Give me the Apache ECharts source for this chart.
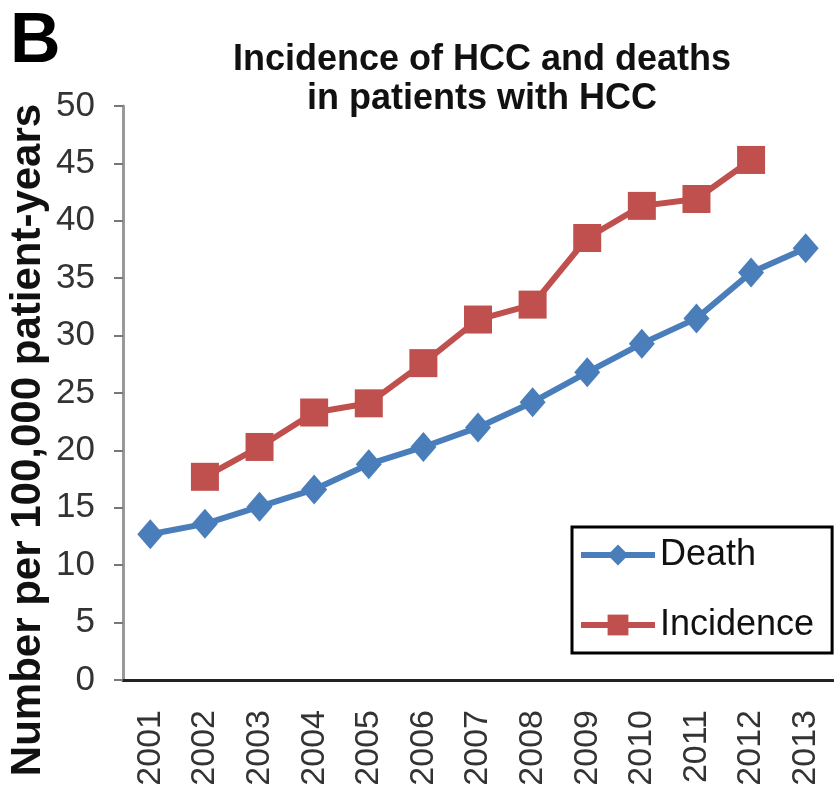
<!DOCTYPE html>
<html lang="en">
<head>
    <meta charset="UTF-8">
    <title>Incidence of HCC and deaths</title>
    <script src="https://cdn.jsdelivr.net/npm/echarts@6/dist/echarts.min.js"></script>
    <style>
        html, body { margin: 0; padding: 0; background: #fff; }
        #chart { width: 834px; height: 789px; }
    </style>
</head>
<body>
<div id="chart"></div>
<script type="text/javascript">
    // data
    var years = ['2001', '2002', '2003', '2004', '2005', '2006', '2007',
                 '2008', '2009', '2010', '2011', '2012', '2013'];
    var death = [12.7, 13.6, 15.1, 16.6, 18.8, 20.3, 22.0, 24.2, 26.8, 29.3, 31.5, 35.5, 37.6];
    var incidence = [null, 17.7, 20.3, 23.3, 24.1, 27.6, 31.4, 32.7, 38.5, 41.3, 41.9, 45.3, null];
    var yTicks = [0, 50, 5];   // min, max, step

    var myChart = echarts.init(document.getElementById('chart'));

    var font = "'Liberation Sans', Arial, sans-serif";

    var option = {
        backgroundColor: '#fff',
        animation: false,
        title: [
            {
                text: 'Incidence of HCC and deaths\nin patients with HCC',
                left: 477,
                top: 36,
                textAlign: 'center',
                textStyle: {
                    fontFamily: font,
                    fontSize: 36,
                    fontWeight: 'bold',
                    lineHeight: 39,
                    color: '#111'
                }
            },
            {
                text: 'B',
                left: 5,
                top: 3,
                textStyle: { fontFamily: font, fontSize: 70, fontWeight: 'bold', color: '#000' }
            }
        ],
        graphic: [
            {
                type: 'text',
                x: 28,
                y: 440,
                rotation: Math.PI / 2,
                style: {
                    text: 'Number per 100,000 patient-years',
                    font: 'bold 42px ' + font,
                    fill: '#111',
                    textAlign: 'center',
                    textVerticalAlign: 'middle'
                }
            }
        ],
        legend: {
            orient: 'vertical',
            left: 572,
            top: 527,
            itemWidth: 74,
            itemHeight: 26,
            itemGap: 34,
            padding: [10, 18, 10, 6],
            borderColor: '#000',
            borderWidth: 3,
            lineStyle: { width: 6 },
            textStyle: { fontFamily: font, fontSize: 36, color: '#111' },
            data: ['Death', 'Incidence']
        },
        grid: {
            left: 123,
            right: 1,
            top: 106,
            bottom: 109
        },
        xAxis: {
            type: 'category',
            data: years,
            axisLine: { lineStyle: { color: '#222', width: 3 } },
            axisTick: { length: 10, lineStyle: { color: '#555', width: 2 } },
            axisLabel: {
                rotate: 90,
                margin: 30,
                fontFamily: font,
                fontSize: 34,
                color: '#333'
            }
        },
        yAxis: {
            type: 'value',
            min: yTicks[0],
            max: yTicks[1],
            interval: yTicks[2],
            axisLine: { show: true, lineStyle: { color: '#999', width: 3 } },
            axisTick: { show: true, length: 9, lineStyle: { color: '#777', width: 2 } },
            axisLabel: {
                margin: 28,
                fontFamily: font,
                fontSize: 35,
                color: '#333'
            },
            splitLine: { show: false }
        },
        series: [
            {
                name: 'Death',
                type: 'line',
                data: death,
                symbol: 'diamond',
                symbolSize: [26, 30],
                itemStyle: { color: '#4A7EBB' },
                lineStyle: { color: '#4A7EBB', width: 6 }
            },
            {
                name: 'Incidence',
                type: 'line',
                data: incidence,
                symbol: 'rect',
                symbolSize: 28,
                itemStyle: { color: '#C0504D' },
                lineStyle: { color: '#C0504D', width: 6 }
            }
        ]
    };
    myChart.setOption(option);
</script>
</body>
</html>
